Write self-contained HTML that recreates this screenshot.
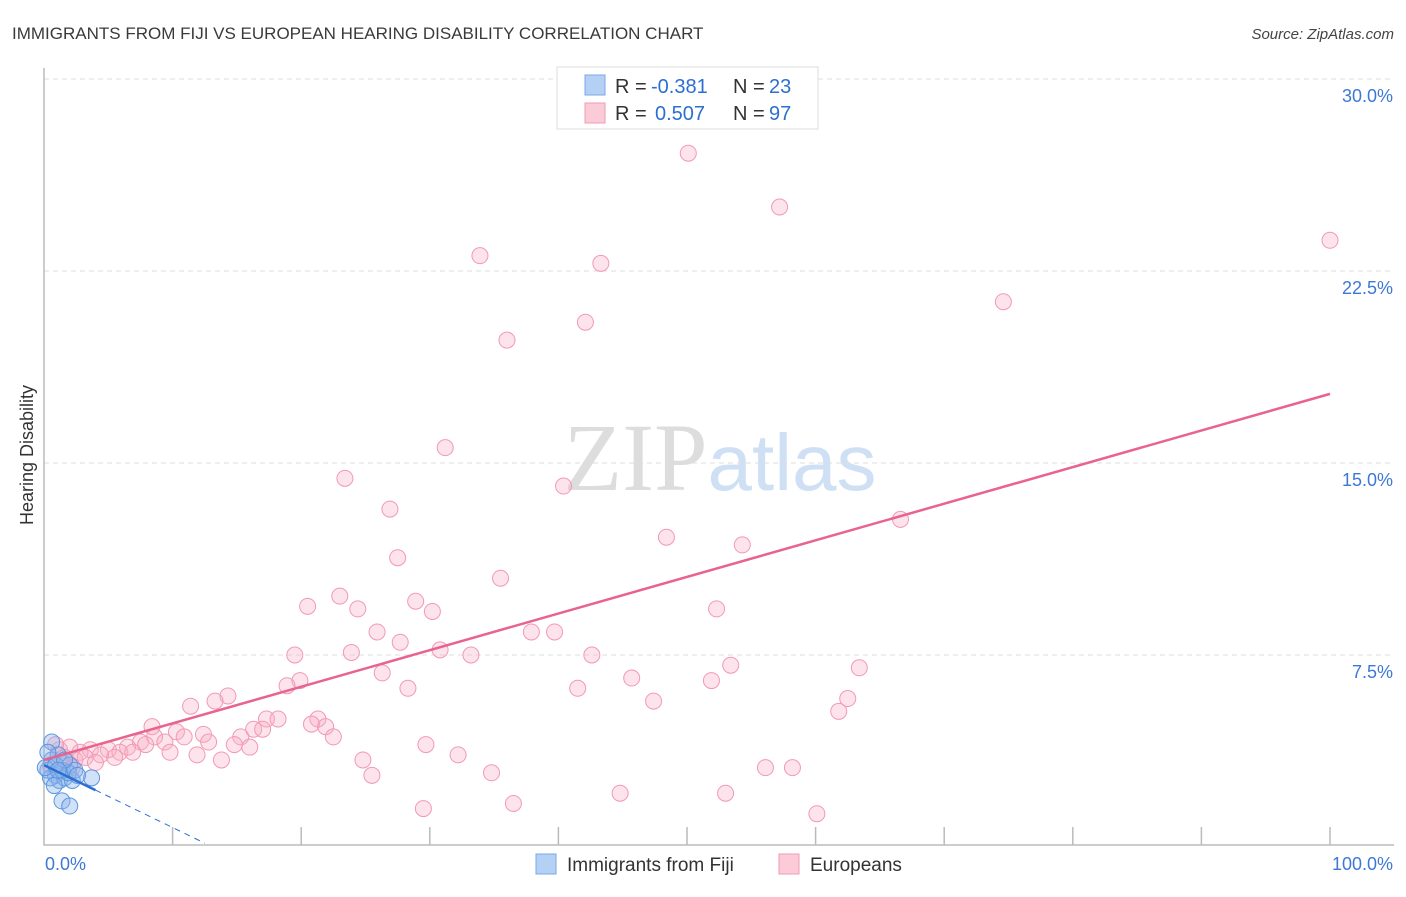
<!DOCTYPE html>
<html><head><meta charset="utf-8"><style>
body{margin:0;background:#fff;font-family:"Liberation Sans",sans-serif}
</style></head><body>
<svg width="1406" height="892" xmlns="http://www.w3.org/2000/svg" font-family="Liberation Sans, sans-serif">
<text x="12" y="39" font-size="17" fill="#3a3a3a">IMMIGRANTS FROM FIJI VS EUROPEAN HEARING DISABILITY CORRELATION CHART</text>
<text x="1394" y="39" font-size="15" fill="#444" text-anchor="end" font-style="italic">Source: ZipAtlas.com</text>
<text x="720" y="490" font-size="96" text-anchor="middle"><tspan font-family="Liberation Serif, serif" fill="#ddd">ZIP</tspan><tspan fill="#cfe0f5" font-size="80">atlas</tspan></text>
<g id="grid"></g>
<g id="axes"></g>
<g id="marks"></g>
<text transform="translate(33,455) rotate(-90)" font-size="18" fill="#333" text-anchor="middle">Hearing Disability</text>
<g font-size="20">
<rect x="557" y="67" width="261" height="62" fill="#fff" stroke="#ddd"/>
<rect x="585" y="75" width="20" height="20" fill="#b5d0f5" stroke="#7aa8e6"/>
<rect x="585" y="103" width="20" height="20" fill="#fbcbd8" stroke="#f29ab4"/>
<text x="615" y="93" fill="#333">R =</text>
<text x="651" y="93" fill="#2d6fd0">-0.381</text>
<text x="733" y="93" fill="#333">N =</text>
<text x="769" y="93" fill="#2d6fd0">23</text>
<text x="615" y="120" fill="#333">R =</text>
<text x="655" y="120" fill="#2d6fd0">0.507</text>
<text x="733" y="120" fill="#333">N =</text>
<text x="769" y="120" fill="#2d6fd0">97</text>
</g>
<g>
<rect x="536" y="854" width="20" height="20" fill="#b5d0f5" stroke="#7aa8e6"/>
<text x="567" y="871" font-size="19" fill="#333">Immigrants from Fiji</text>
<rect x="779" y="854" width="20" height="20" fill="#fbcbd8" stroke="#f29ab4"/>
<text x="810" y="871" font-size="19" fill="#333">Europeans</text>
</g>
</svg>
<script>
const yTicks=[7.5,15,22.5,30];
const yTickLabels=["7.5%","15.0%","22.5%","30.0%"];
const xTickLabels=["0.0%","100.0%"];
const fijiX=[0.6,0.6,0.3,0.9,1.2,0.5,1.6,2.2,1.4,1.1,2.0,1.9,0.1,3.7,1.4,2.0,0.9,2.4,0.3,1.6,0.8,2.6,1.1];
const fijiY=[4.1,3.4,3.0,2.8,2.6,2.7,2.7,2.6,3.0,3.6,3.2,2.9,3.1,2.7,1.8,1.6,3.2,3.0,3.7,3.4,2.4,2.8,3.0];
const euroX=[50.1,57.2,100,33.9,43.3,74.6,42.1,36.0,31.2,23.4,40.4,26.9,66.6,48.4,54.3,27.5,35.5,23.0,20.5,24.4,28.9,30.2,52.3,25.9,37.9,39.7,27.7,30.8,23.9,33.2,42.6,19.5,53.4,63.4,26.3,45.7,51.9,19.9,18.9,28.3,41.5,14.3,13.3,47.4,62.5,11.4,61.8,8.4,17.3,18.2,21.3,20.8,21.9,16.3,17.0,10.3,12.4,10.9,22.5,8.6,15.3,12.8,9.4,7.5,14.8,29.7,7.9,16.0,6.5,5.0,5.9,9.8,11.9,6.9,3.6,4.4,2.8,2.0,1.2,1.6,2.4,3.2,32.2,24.8,13.8,56.1,58.2,34.8,25.5,44.8,53.0,36.5,29.5,60.1,0.9,1.4,2.2,0.5,4.0,5.5];
const euroY=[27.1,25.0,23.7,23.1,22.8,21.3,20.5,19.8,15.6,14.4,14.1,13.2,12.8,12.1,11.8,11.3,10.5,9.8,9.4,9.3,9.6,9.2,9.3,8.4,8.4,8.4,8.0,7.7,7.6,7.5,7.5,7.5,7.1,7.0,6.8,6.6,6.5,6.5,6.3,6.2,6.2,5.9,5.7,5.7,5.8,5.5,5.3,4.7,5.0,5.0,5.0,4.8,4.7,4.6,4.6,4.5,4.4,4.3,4.3,4.3,4.3,4.1,4.1,4.1,4.0,4.0,4.0,3.9,3.9,3.8,3.7,3.7,3.6,3.7,3.8,3.6,3.7,3.9,3.8,3.5,3.4,3.5,3.6,3.4,3.4,3.1,3.1,2.9,2.8,2.1,2.1,1.7,1.5,1.3,4.0,3.3,3.1,3.2,3.3,3.5];
const euroTrend=[3.4,17.7];
const fijiTrend=[3.2,0.15];
const X0=44,X1=1330,Y0=847,PPY=25.6;
const sx=v=>X0+(X1-X0)*v/100, sy=v=>Y0-v*PPY;
const NS="http://www.w3.org/2000/svg";
function mk(t,a,p){const e=document.createElementNS(NS,t);for(const k in a)e.setAttribute(k,a[k]);document.getElementById(p).appendChild(e);return e;}
yTicks.forEach((v,i)=>{
 const g=mk('line',{x1:X0,x2:1394,y1:sy(v),y2:sy(v),stroke:'#ddd','stroke-dasharray':'5,4'},'grid');
 
 
 const t=mk('text',{x:1393,y:sy(v)+23,'font-size':18,fill:'#3d78d6','text-anchor':'end'},'axes');
 t.textContent=yTickLabels[i];
 
 
});
const ax=mk('path',{d:`M${X0},68V845H1394`,stroke:'#bbb',fill:'none','stroke-width':1.5},'axes');


for(let i=1;i<=10;i++){
 const tk=mk('line',{x1:sx(i*10),x2:sx(i*10),y1:827,y2:845,stroke:'#bbb','stroke-width':1.5},'axes');
 
 
}
[[X0+1,'start'],[1393,'end']].forEach((p,i)=>{
 const t=mk('text',{x:p[0],y:870,'font-size':18,fill:'#3d78d6','text-anchor':p[1]},'axes');
 t.textContent=xTickLabels[i];
 
 
});
euroX.forEach((x,i)=>{
 const c=mk('circle',{cx:sx(x),cy:sy(euroY[i]),r:8,fill:'rgba(248,175,198,0.35)',stroke:'#f299b5','stroke-width':1},'marks');
 
 
});
fijiX.forEach((x,i)=>{
 const c=mk('circle',{cx:sx(x),cy:sy(fijiY[i]),r:8,fill:'rgba(140,180,235,0.4)',stroke:'#5b96e0','stroke-width':1},'marks');
 
 
});
const el=mk('line',{x1:sx(0),y1:sy(euroTrend[0]),x2:sx(100),y2:sy(euroTrend[1]),stroke:'#e8638e','stroke-width':2.5},'marks');


const fy=x=>fijiTrend[0]+(fijiTrend[1]-fijiTrend[0])*x/12.5;
const fl=mk('line',{x1:sx(0),y1:sy(fy(0)),x2:sx(4),y2:sy(fy(4)),stroke:'#2d6fd0','stroke-width':2.5},'marks');


const fd=mk('line',{x1:sx(4),y1:sy(fy(4)),x2:sx(12.5),y2:sy(fy(12.5)),stroke:'#2d6fd0','stroke-width':1,'stroke-dasharray':'6,5'},'marks');


</script>
</body></html>
